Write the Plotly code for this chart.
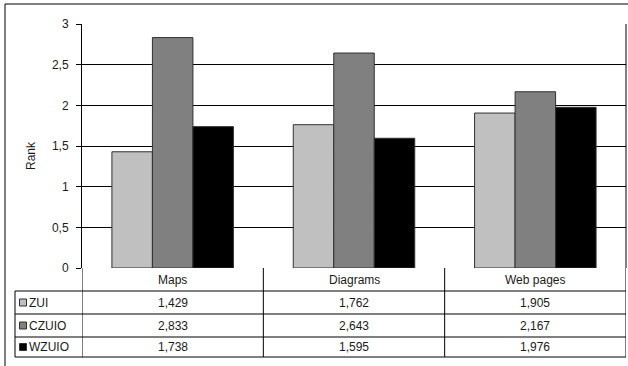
import plotly.graph_objects as go

# Chart data
categories = ["Maps", "Diagrams", "Web pages"]
series_names = ["ZUI", "CZUIO", "WZUIO"]
zui = [1.429, 1.762, 1.905]
czuio = [2.833, 2.643, 2.167]
wzuio = [1.738, 1.595, 1.976]
series_values = [zui, czuio, wzuio]
series_colors = ["#C0C0C0", "#808080", "#000000"]
y_ticks = [0, 0.5, 1, 1.5, 2, 2.5, 3]

W, H = 628, 366
L, R, T, B = 82, 2, 24, 98
PW, PH = W - L - R, H - T - B
FONT = "Arial, Liberation Sans, sans-serif"
TXT = "#1a1a1a"


def px_x(px):
    return (px - L) / PW


def px_y(py):
    return (H - B - py) / PH


def fmt(v):
    return f"{v:.3f}".replace(".", ",")


fig = go.Figure()
for name, vals, col in zip(series_names, series_values, series_colors):
    fig.add_trace(go.Bar(
        x=list(range(len(categories))), y=vals, name=name,
        marker=dict(color=col, line=dict(color="#303030", width=1)),
        showlegend=False, hoverinfo="skip",
    ))

shapes = []
annotations = []
BLACK = dict(color="#000", width=1)

# outer chart frame (left and top edges fall inside the page)
shapes.append(dict(type="line", xref="paper", yref="paper",
                   x0=px_x(5), x1=px_x(5), y0=px_y(H + 5), y1=px_y(4), line=BLACK))
shapes.append(dict(type="line", xref="paper", yref="paper",
                   x0=px_x(5), x1=px_x(W + 5), y0=px_y(4), y1=px_y(4), line=BLACK))

# data table geometry (row boundaries in pixels)
row_edges = [268, 291, 314, 337, 357]
n_cat = len(categories)

for e in row_edges[1:]:
    shapes.append(dict(type="line", xref="paper", yref="paper",
                       x0=px_x(15), x1=1, y0=px_y(e), y1=px_y(e), line=BLACK))
for k in range(n_cat + 1):
    shapes.append(dict(type="line", xref="x", yref="paper",
                       x0=k - 0.5, x1=k - 0.5, y0=px_y(row_edges[-1]), y1=px_y(row_edges[0]),
                       line=BLACK))
shapes.append(dict(type="line", xref="paper", yref="paper",
                   x0=px_x(15), x1=px_x(15), y0=px_y(row_edges[-1]), y1=px_y(row_edges[1]),
                   line=BLACK))
# right frame of plot area
shapes.append(dict(type="line", xref="paper", yref="paper", x0=1, x1=1,
                   y0=px_y(row_edges[0]), y1=1, line=BLACK))

# category header row
for i, c in enumerate(categories):
    annotations.append(dict(x=i, xref="x", y=px_y((row_edges[0] + row_edges[1]) / 2),
                            yref="paper", text=c, showarrow=False,
                            xanchor="center", yanchor="middle",
                            font=dict(family=FONT, size=12, color=TXT)))

# series rows: legend key, label and values
for r, (name, vals, col) in enumerate(zip(series_names, series_values, series_colors)):
    yc = (row_edges[r + 1] + row_edges[r + 2]) / 2
    shapes.append(dict(type="rect", xref="paper", yref="paper",
                       x0=px_x(19.5), x1=px_x(26.5), y0=px_y(yc + 3.5), y1=px_y(yc - 3.5),
                       fillcolor=col, line=dict(color="#303030", width=1)))
    annotations.append(dict(x=px_x(27), xref="paper", y=px_y(yc), yref="paper",
                            text=name, showarrow=False, xanchor="left", yanchor="middle",
                            font=dict(family=FONT, size=12, color=TXT)))
    for i, v in enumerate(vals):
        annotations.append(dict(x=i, xref="x", y=px_y(yc), yref="paper",
                                text=fmt(v), showarrow=False,
                                xanchor="center", yanchor="middle",
                                font=dict(family=FONT, size=12, color=TXT)))

# axis title
annotations.append(dict(x=px_x(31), xref="paper", y=px_y(156), yref="paper",
                        text="Rank", textangle=-90, showarrow=False,
                        xanchor="center", yanchor="middle",
                        font=dict(family=FONT, size=12, color=TXT)))

fig.update_layout(
    width=W, height=H,
    margin=dict(l=L, r=R, t=T, b=B),
    paper_bgcolor="#fff", plot_bgcolor="#fff",
    separators=",.",
    barmode="group", bargap=0.33, bargroupgap=0,
    shapes=shapes, annotations=annotations,
    xaxis=dict(range=[-0.5, n_cat - 0.5], showticklabels=False, showgrid=False,
               zeroline=False, showline=False, ticks="", fixedrange=True),
    yaxis=dict(range=[0, 3], tickvals=y_ticks, showgrid=True, gridcolor="#000",
               gridwidth=1, zeroline=False, showline=True, linecolor="#000",
               linewidth=1, mirror=False, ticks="outside", ticklen=5,
               tickcolor="#000", ticklabelstandoff=5,
               tickfont=dict(family=FONT, size=12, color=TXT), fixedrange=True),
    showlegend=False,
)

fig.write_html("out.html")
